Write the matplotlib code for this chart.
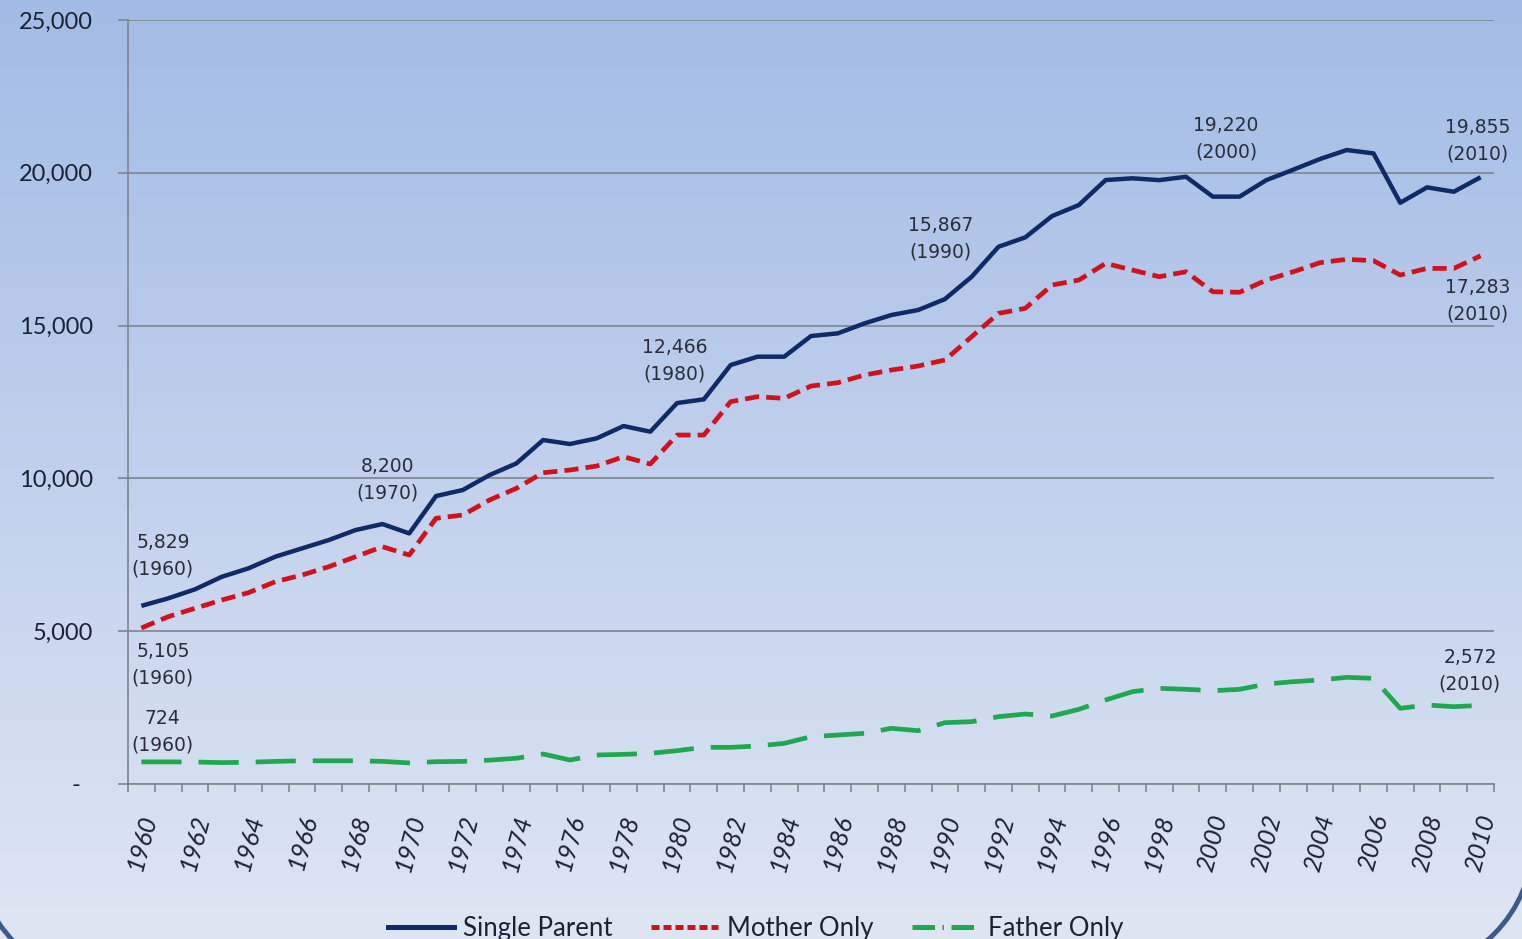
import numpy as np
import matplotlib
matplotlib.use("Agg")
import matplotlib.pyplot as plt
from matplotlib.patches import Arc
from matplotlib.lines import Line2D

# data (thousands)
years = list(range(1960, 2011))

single_parent = [5829, 6075, 6370, 6780, 7057, 7438, 7711, 7984, 8311, 8507,
                 8200, 9423, 9620, 10110, 10490, 11256, 11125, 11311, 11714, 11529,
                 12466, 12587, 13710, 13982, 13982, 14659, 14746, 15073, 15346, 15510,
                 15867, 16600, 17580, 17887, 18585, 18945, 19763, 19820, 19760, 19870,
                 19220, 19220, 19760, 20100, 20450, 20745, 20636, 19020, 19524, 19380,
                 19855]

mother_only = [5105, 5475, 5748, 6020, 6261, 6620, 6838, 7111, 7438, 7765,
               7493, 8694, 8802, 9293, 9675, 10186, 10274, 10405, 10710, 10470,
               11419, 11419, 12510, 12673, 12619, 13022, 13131, 13383, 13546, 13677,
               13873, 14637, 15400, 15564, 16327, 16490, 17036, 16818, 16600, 16762,
               16108, 16090, 16490, 16760, 17058, 17168, 17124, 16655, 16872, 16872,
               17283]

father_only = [724, 724, 720, 700, 710, 740, 760, 760, 760, 740,
               690, 730, 740, 780, 843, 981, 785, 949, 970, 1003,
               1090, 1200, 1200, 1243, 1330, 1548, 1603, 1658, 1822, 1745,
               2006, 2040, 2204, 2290, 2225, 2443, 2749, 3021, 3131, 3098,
               3054, 3098, 3272, 3348, 3403, 3490, 3457, 2476, 2585, 2530,
               2572]

# (series, year, text) for the value callouts
callouts = [
    ("sp", 1960, "5,829\n(1960)"),
    ("sp", 1970, "8,200\n(1970)"),
    ("sp", 1980, "12,466\n(1980)"),
    ("sp", 1990, "15,867\n(1990)"),
    ("sp", 2000, "19,220\n(2000)"),
    ("sp", 2010, "19,855\n(2010)"),
    ("mo", 1960, "5,105\n(1960)"),
    ("mo", 2010, "17,283\n(2010)"),
    ("fo", 1960, "724\n(1960)"),
    ("fo", 2010, "2,572\n(2010)"),
]

W, H = 1522, 939
fig = plt.figure(figsize=(W / 100, H / 100), dpi=100)

# background gradient + rounded frame corners
bg = fig.add_axes([0, 0, 1, 1], zorder=-10)
top = np.array([0xa3, 0xbb, 0xe6]) / 255
bot = np.array([0xdf, 0xe6, 0xf3]) / 255
t = np.linspace(0, 1, 256)[:, None]
grad = (top * (1 - t) + bot * t)[:, None, :]
grad = np.repeat(grad, 2, axis=1)
bg.imshow(grad, extent=[0, W, H, 0], aspect="auto")
bg.add_patch(Arc((1400, 840), 266, 266, theta1=0, theta2=90, color="#3c5b88", lw=3.5))
bg.add_patch(Arc((120, 840), 294, 294, theta1=90, theta2=180, color="#3c5b88", lw=3.5))
bg.set_xlim(0, W)
bg.set_ylim(H, 0)
bg.axis("off")

ax = fig.add_axes([128 / W, 1 - 784 / H, (1494 - 128) / W, (784 - 20) / H])
ax.patch.set_alpha(0)

x = np.arange(len(years))
ax.plot(x, single_parent, color="#0f2a66", lw=3.2, solid_capstyle="butt", zorder=5)
ax.plot(x, mother_only, color="#d0121b", lw=3.4, dashes=(3.0, 1.5), zorder=4)
ax.plot(x, father_only, color="#1fa84f", lw=3.4, dashes=(8.5, 3.6), zorder=3)

ax.set_xlim(-0.5, len(years) - 0.5)
ax.set_ylim(0, 25000)

grid_c = "#7d8591"
ax.set_yticks(range(0, 25001, 5000))
ax.set_yticklabels(["-  " if v == 0 else f"{v:,}" for v in range(0, 25001, 5000)])
ax.grid(axis="y", color=grid_c, lw=1.2)
ax.set_axisbelow(True)

ax.set_xticks(x[::2])
ax.set_xticklabels([str(y) for y in years[::2]], rotation=75, fontstyle="italic")
ax.set_xticks(np.arange(-0.5, len(years), 1), minor=True)

for s in ["top", "right"]:
    ax.spines[s].set_visible(False)
for s in ["left", "bottom"]:
    ax.spines[s].set_color(grid_c)
    ax.spines[s].set_linewidth(1.2)

ax.tick_params(axis="y", length=7, width=1.2, color=grid_c, pad=18,
               labelsize=17, labelcolor="#1c2233")
ax.tick_params(axis="x", which="major", length=0, pad=20, labelsize=18, labelcolor="#1c2233")
ax.tick_params(axis="x", which="minor", length=6, width=1.2, color=grid_c)
for lab in ax.get_xticklabels() + ax.get_yticklabels():
    lab.set_fontfamily("Lato")

series = {"sp": single_parent, "mo": mother_only, "fo": father_only}
offsets = {
    ("sp", 1960): (0.8, 1650), ("sp", 1970): (-0.8, 1750), ("sp", 1980): (-0.1, 1380),
    ("sp", 1990): (-0.15, 1960), ("sp", 2000): (0.5, 1880), ("sp", 2010): (-0.1, 1200),
    ("mo", 1960): (0.8, -1210), ("mo", 2010): (-0.1, -1460),
    ("fo", 1960): (0.8, 980), ("fo", 2010): (-0.4, 1140),
}
for key, yr, txt in callouts:
    i = years.index(yr)
    dx, dy = offsets[(key, yr)]
    ax.text(i + dx, series[key][i] + dy, txt, ha="center", va="center",
            fontsize=13.5, color="#2a2e38", family="DejaVu Sans", linespacing=1.5)

handles = [
    Line2D([], [], color="#0f2a66", lw=3.6),
    Line2D([], [], color="#d0121b", lw=3.6, dashes=(1.6, 0.8)),
    Line2D([], [], color="#1fa84f", lw=3.6, dashes=(4.5, 1.5, 0.3, 1.5)),
]
fig.legend(handles, ["Single Parent", "Mother Only", "Father Only"], loc="center",
           bbox_to_anchor=(0.4964, 0.011), ncol=3, frameon=False,
           prop={"family": "Lato", "size": 18.5}, labelcolor="#1c2233",
           handlelength=2.6, handletextpad=0.35, columnspacing=1.5)

fig.savefig("out.png", dpi=100)
